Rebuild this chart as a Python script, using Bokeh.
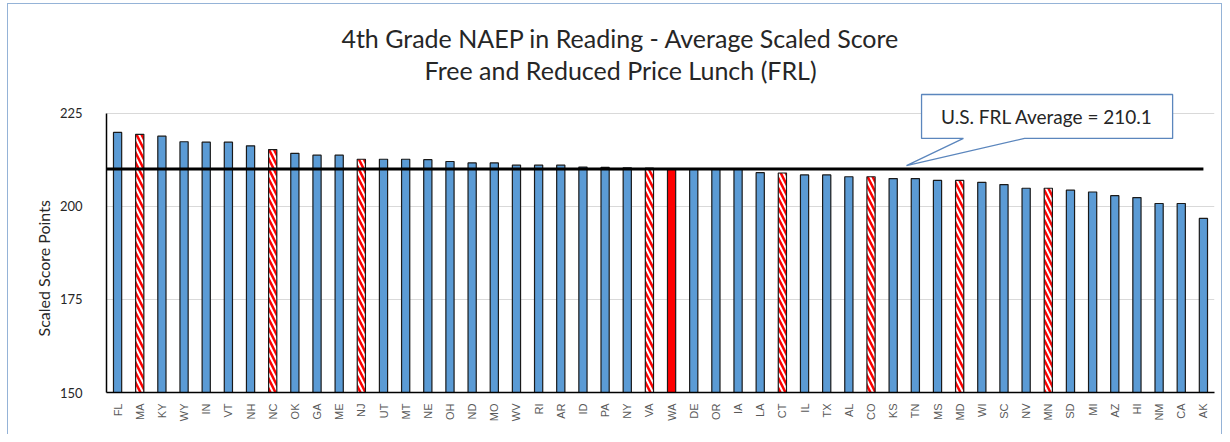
import math
from bokeh.plotting import figure
from bokeh.models import (ColumnDataSource, FactorRange, Range1d, FixedTicker, Label, Title)
from bokeh.embed import file_html
from bokeh.resources import INLINE

# ---------------- data ----------------
states = ["FL", "MA", "KY", "WY", "IN", "VT", "NH", "NC", "OK", "GA",
          "ME", "NJ", "UT", "MT", "NE", "OH", "ND", "MO", "WV", "RI",
          "AR", "ID", "PA", "NY", "VA", "WA", "DE", "OR", "IA", "LA",
          "CT", "IL", "TX", "AL", "CO", "KS", "TN", "MS", "MD", "WI",
          "SC", "NV", "MN", "SD", "MI", "AZ", "HI", "NM", "CA", "AK"]
scores = [219.9, 219.4, 218.9, 217.4, 217.3, 217.3, 216.3, 215.3, 214.3, 213.8,
          213.8, 212.7, 212.7, 212.7, 212.6, 212.1, 211.7, 211.7, 211.1, 211.1,
          211.1, 210.6, 210.5, 210.4, 210.3, 210.2, 210.2, 210.1, 210.1, 209.1,
          209.0, 208.5, 208.5, 208.0, 208.0, 207.5, 207.5, 207.0, 207.0, 206.5,
          205.9, 204.9, 204.9, 204.4, 203.9, 202.9, 202.4, 200.8, 200.8, 196.8]
hatched_states = ["MA", "NC", "NJ", "VA", "CT", "CO", "MD", "MN"]
highlight_states = ["WA"]
us_frl_average = 210.1
y_ticks = [150, 175, 200, 225]
title_lines = ["4th Grade NAEP in Reading - Average Scaled Score",
               "Free and Reduced Price Lunch (FRL)"]
y_label = "Scaled Score Points"
callout_text = "U.S. FRL Average = 210.1"

# ---------------- sources ----------------
def subset(pred):
    xs = [s for s in states if pred(s)]
    ys = [v for s, v in zip(states, scores) if pred(s)]
    return ColumnDataSource(dict(x=xs, top=ys))

src_blue = subset(lambda s: s not in hatched_states and s not in highlight_states)
src_hatch = subset(lambda s: s in hatched_states)
src_red = subset(lambda s: s in highlight_states)

# ---------------- figure ----------------
p = figure(width=1215, height=431,
           x_range=FactorRange(*states),
           y_range=Range1d(150, 254.3),
           output_backend="svg", toolbar_location=None,
           min_border_left=98, min_border_right=9,
           min_border_top=0, min_border_bottom=43,
           background_fill_color="white", border_fill_color="white",
           styles={"margin-left": "7px", "margin-top": "3px",
                   "border-top": "1px solid #95B3D7",
                   "border-left": "1px solid #95B3D7",
                   "border-right": "1px solid #95B3D7"})
p.outline_line_color = None

# bars
p.vbar(x="x", top="top", bottom=150, width=0.37, source=src_blue,
       fill_color="#5B9BD5", line_color="#1a1a1a", line_width=1.2)
p.vbar(x="x", top="top", bottom=150, width=0.37, source=src_hatch,
       fill_color="white", line_color="#1a1a1a", line_width=1.2,
       hatch_pattern="\\", hatch_color="#FF0000", hatch_weight=2.5,
       hatch_scale=10)
p.vbar(x="x", top="top", bottom=150, width=0.37, source=src_red,
       fill_color="#FF0000", line_color="#1a1a1a", line_width=1.2)

# average line
n = len(states)
p.line(x=[0, n - 0.5], y=[us_frl_average, us_frl_average],
       line_color="black", line_width=3)

# callout (box with pointer to the average line)
bx0, bx1, by0, by1 = 36.78, 48.11, 218.3, 230.1
p.patch(x=[bx0, bx1, bx1, 41.43, 36.1, 38.67, bx0],
        y=[by1, by1, by0, by0, us_frl_average + 0.9, by0, by0],
        fill_color="white", line_color="#5B86BD", line_width=1.3)
p.add_layout(Label(x=(bx0 + bx1) / 2, y=(by0 + by1) / 2, text=callout_text,
                   text_align="center", text_baseline="middle",
                   text_font="Lato", text_font_size="19px",
                   text_color="#262626"))

# titles
tx = n / 2 - 1.8
p.add_layout(Label(x=tx, y=245.4, text=title_lines[0],
                   text_align="center", text_baseline="middle",
                   text_font="Lato", text_font_size="25px", text_color="#262626"))
p.add_layout(Label(x=tx, y=236.6, text=title_lines[1],
                   text_align="center", text_baseline="middle",
                   text_font="Lato", text_font_size="25px", text_color="#262626"))

# y-axis label as a left title
p.add_layout(Title(text=y_label, align="left", offset=56, standoff=8,
                   text_font="Lato", text_font_size="16px",
                   text_font_style="normal", text_color="#262626"), "left")

# axes
p.yaxis.ticker = FixedTicker(ticks=y_ticks)
p.yaxis.bounds = (150, 225)
p.yaxis.major_tick_line_color = None
p.yaxis.minor_tick_line_color = None
p.yaxis.axis_line_color = "black"
p.yaxis.axis_line_width = 1.5
p.yaxis.major_label_standoff = 18
p.yaxis.major_label_text_font = "Lato"
p.yaxis.major_label_text_font_size = "13px"
p.yaxis.major_label_text_color = "#262626"

p.xaxis.major_label_orientation = math.pi / 2
p.xaxis.major_tick_line_color = None
p.xaxis.axis_line_color = "black"
p.xaxis.axis_line_width = 1.5
p.xaxis.major_label_standoff = 5
p.xaxis.major_label_text_font = "Liberation Sans"
p.xaxis.major_label_text_font_size = "11px"
p.xaxis.major_label_text_color = "#595959"

p.xgrid.grid_line_color = None
p.ygrid.ticker = FixedTicker(ticks=y_ticks)
p.ygrid.grid_line_color = "#D9D9D9"
p.ygrid.grid_line_width = 1

open("out.html", "w").write(file_html(p, INLINE))
